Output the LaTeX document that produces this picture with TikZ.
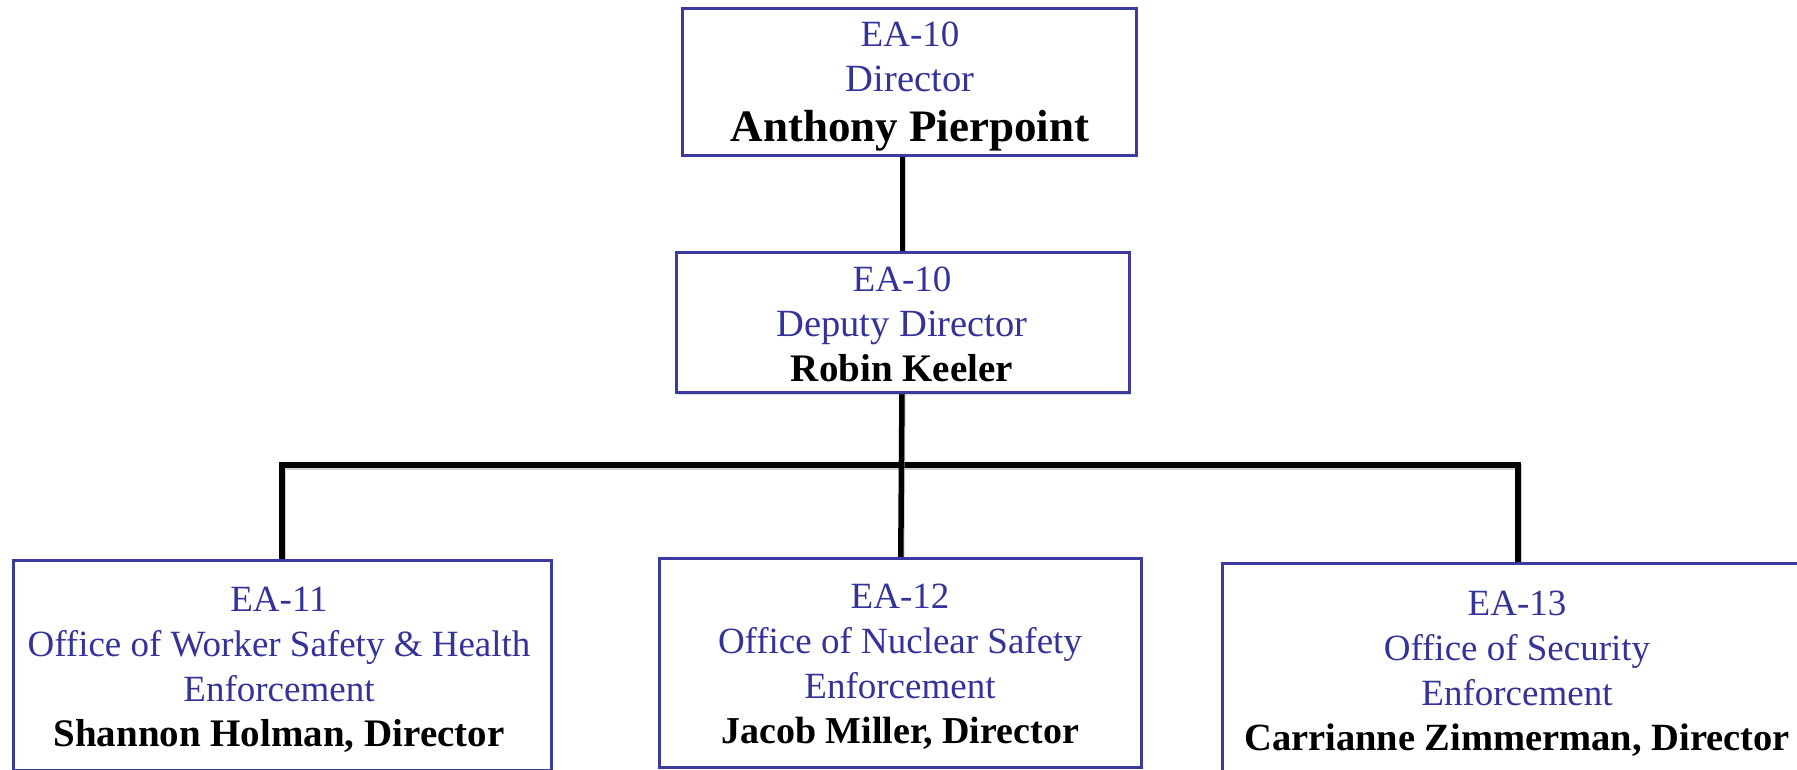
\documentclass[tikz,border=0pt]{standalone}
\usepackage{fontspec}
\setmainfont{Liberation Serif}
\usetikzlibrary{shadows}
\definecolor{eablue}{RGB}{51,51,153}
\definecolor{eaborder}{RGB}{58,58,160}
\newcommand\bl[2]{{\fontsize{#1}{45}\selectfont\color{eablue}\strut #2}}
\newcommand\nm[2]{{\fontsize{#1}{45}\selectfont\bfseries\strut #2}}
\begin{document}
\begin{tikzpicture}[x=1pt,y=-1pt,
  orgbox/.style={rectangle, draw=eaborder, line width=3pt, fill=white, inner sep=0pt,
    drop shadow={shadow xshift=1.5pt, shadow yshift=-2pt, opacity=0.3}},
  orgtext/.style={anchor=north, inner sep=0pt, align=center, font=\fontsize{38}{45}\selectfont},
  conn/.style={line width=5.5pt, draw=black, line join=miter,
    preaction={draw=black!35, line width=5.5pt, opacity=0.5, transform canvas={shift={(1pt,-2pt)}}}}]
\useasboundingbox (0,0) rectangle (1797,769);
\fill[white] (0,0) rectangle (1797,769);
% connectors
\coordinate (bus) at (902.5,465);
\coordinate (topc) at (902.5,155);
\coordinate (midc) at (902.5,322.7);
\coordinate (b1c) at (282.2,665);
\coordinate (b2c) at (900,662.8);
\coordinate (b3c) at (1518,669.5);
\draw[conn] (topc) -- (midc);
\draw[conn] (b1c) |- (bus) -| (b3c);
\draw[conn] (midc) -- (b2c);
% boxes
\node[orgbox, minimum width=454pt, minimum height=147pt] (top) at (909,81.5) {};
\node[orgbox, minimum width=453pt, minimum height=140pt] (mid) at (902.5,322.7) {};
\node[orgbox, minimum width=537.6pt, minimum height=210pt] (b1) at (282.2,665) {};
\node[orgbox, minimum width=482pt, minimum height=209pt] (b2) at (900,662.8) {};
\node[orgbox, minimum width=592pt, minimum height=213pt] (b3) at (1518,669.5) {};
% texts
\node[orgtext] (t0) at (910,15.2) {\bl{37}{EA-10}\\ \bl{38.5}{Director}\\[5pt] \nm{45}{Anthony Pierpoint}};
\node[orgtext] (t1) at (902,260.2) {\bl{37}{EA-10}\\ \bl{38.5}{Deputy Director}\\ \nm{39}{Robin Keeler}};
\node[orgtext] (t2) at (279,580.2) {\bl{37}{EA-11}\\ \bl{37}{Office of Worker Safety \& Health}\\ \bl{37}{Enforcement}\\ \nm{39}{Shannon Holman, Director}};
\node[orgtext] (t3) at (900,576.8) {\bl{37}{EA-12}\\ \bl{37}{Office of Nuclear Safety}\\ \bl{37}{Enforcement}\\ \nm{38}{Jacob Miller, Director}};
\node[orgtext] (t4) at (1517,583.5) {\bl{37}{EA-13}\\ \bl{37}{Office of Security}\\ \bl{37}{Enforcement}\\ \nm{38.5}{Carrianne Zimmerman, Director}};
\end{tikzpicture}
\end{document}
